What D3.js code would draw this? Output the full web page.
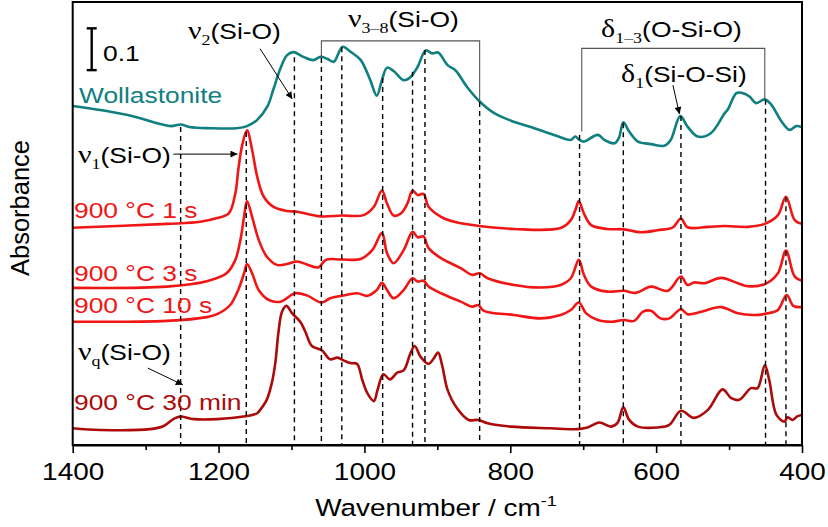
<!DOCTYPE html>
<html>
<head>
<meta charset="utf-8">
<script src="https://cdn.jsdelivr.net/npm/d3@7"></script>
<style>
  body { margin: 0; background: #fff; }
  svg { display: block; }
</style>
</head>
<body>
<svg id="chart" width="828" height="527"></svg>
<script>
// FTIR spectra, stacked with vertical offsets: [wavenumber (cm^-1), absorbance]
const wollastonite = [[1400,0.811],[1326,0.790],[1280,0.768],[1265,0.763],[1252,0.767],[1240,0.761],[1211,0.758],[1175,0.758],[1161,0.763],[1147,0.778],[1133,0.810],[1125,0.850],[1115,0.902],[1106,0.933],[1097,0.940],[1083,0.928],[1070,0.921],[1060,0.929],[1051,0.924],[1042,0.917],[1030,0.953],[1019,0.941],[1005,0.921],[992,0.873],[983,0.836],[976,0.873],[969,0.903],[960,0.895],[946,0.873],[937,0.880],[927,0.905],[916,0.944],[907,0.937],[899,0.939],[886,0.909],[875,0.896],[859,0.856],[842,0.822],[822,0.794],[799,0.776],[767,0.758],[740,0.742],[717,0.730],[711,0.738],[705,0.730],[699,0.726],[680,0.742],[671,0.730],[657,0.722],[651,0.735],[645,0.772],[637,0.750],[625,0.726],[607,0.720],[589,0.716],[580,0.730],[567,0.787],[557,0.762],[543,0.738],[525,0.746],[506,0.794],[502,0.802],[490,0.842],[483,0.843],[472,0.834],[463,0.818],[451,0.827],[442,0.814],[428,0.774],[417,0.754],[408,0.763],[400,0.760]];

const heated1s = [[1400,0.520],[1271,0.529],[1225,0.534],[1202,0.543],[1186,0.554],[1177,0.602],[1173,0.658],[1168,0.714],[1161,0.753],[1154,0.706],[1147,0.642],[1138,0.594],[1124,0.569],[1106,0.560],[1092,0.558],[1060,0.547],[1031,0.549],[1001,0.550],[987,0.570],[976,0.609],[969,0.578],[960,0.549],[950,0.554],[941,0.578],[934,0.609],[927,0.598],[919,0.601],[912,0.570],[895,0.546],[877,0.534],[842,0.524],[795,0.517],[731,0.519],[717,0.538],[710,0.566],[706,0.584],[699,0.554],[689,0.526],[667,0.517],[644,0.516],[621,0.509],[598,0.514],[577,0.521],[566,0.542],[557,0.521],[529,0.522],[507,0.524],[474,0.522],[451,0.529],[433,0.550],[422,0.594],[410,0.538],[400,0.529]];

const heated3s = [[1400,0.376],[1271,0.379],[1216,0.392],[1189,0.411],[1177,0.443],[1170,0.491],[1165,0.546],[1161,0.584],[1154,0.546],[1145,0.491],[1134,0.451],[1120,0.431],[1106,0.433],[1092,0.439],[1079,0.432],[1063,0.425],[1053,0.443],[1031,0.444],[1005,0.445],[989,0.467],[976,0.507],[969,0.459],[960,0.435],[946,0.467],[934,0.510],[927,0.497],[919,0.499],[912,0.471],[895,0.447],[868,0.423],[852,0.407],[842,0.411],[831,0.399],[795,0.383],[758,0.377],[731,0.383],[717,0.399],[706,0.443],[699,0.407],[689,0.379],[667,0.367],[644,0.369],[628,0.364],[607,0.379],[584,0.369],[566,0.403],[557,0.383],[548,0.389],[534,0.387],[511,0.400],[488,0.387],[474,0.380],[451,0.385],[433,0.411],[422,0.465],[410,0.403],[400,0.393]];

const heated10s = [[1400,0.295],[1271,0.297],[1216,0.306],[1202,0.313],[1184,0.335],[1173,0.371],[1165,0.411],[1161,0.433],[1154,0.411],[1145,0.371],[1131,0.347],[1115,0.343],[1095,0.363],[1079,0.358],[1059,0.341],[1047,0.351],[1031,0.357],[1010,0.363],[996,0.357],[983,0.371],[976,0.388],[969,0.371],[960,0.351],[946,0.371],[934,0.399],[927,0.391],[919,0.393],[912,0.379],[895,0.363],[868,0.343],[852,0.331],[844,0.335],[836,0.321],[795,0.311],[758,0.303],[731,0.311],[717,0.323],[706,0.341],[696,0.315],[680,0.299],[662,0.295],[644,0.299],[630,0.297],[618,0.319],[607,0.321],[594,0.303],[582,0.303],[566,0.325],[557,0.313],[538,0.319],[511,0.330],[488,0.315],[465,0.311],[447,0.315],[433,0.323],[421,0.359],[412,0.333],[400,0.330]];

const heated30min = [[1400,0.040],[1362,0.036],[1294,0.038],[1276,0.045],[1262,0.062],[1253,0.068],[1234,0.062],[1202,0.062],[1166,0.068],[1147,0.076],[1143,0.084],[1134,0.108],[1127,0.148],[1122,0.199],[1118,0.268],[1113,0.319],[1107,0.333],[1099,0.315],[1088,0.295],[1081,0.271],[1072,0.237],[1058,0.226],[1047,0.205],[1037,0.209],[1028,0.202],[1019,0.196],[1010,0.194],[1003,0.156],[996,0.124],[987,0.105],[982,0.132],[974,0.169],[965,0.157],[955,0.173],[946,0.179],[937,0.219],[931,0.237],[923,0.211],[912,0.194],[905,0.207],[899,0.221],[893,0.187],[886,0.132],[873,0.088],[857,0.060],[844,0.060],[831,0.052],[799,0.044],[745,0.040],[708,0.038],[694,0.042],[678,0.054],[662,0.044],[653,0.053],[645,0.090],[637,0.060],[625,0.044],[598,0.042],[582,0.048],[566,0.082],[548,0.065],[529,0.084],[509,0.133],[497,0.112],[486,0.108],[470,0.136],[461,0.136],[451,0.191],[445,0.156],[435,0.072],[424,0.056],[420,0.066],[413,0.060],[406,0.069],[400,0.072]];

// Series labels and colours
const seriesNames = ["Wollastonite", "900 °C 1 s", "900 °C 3 s", "900 °C 10 s", "900 °C 30 min"];
const seriesColors = ["#0f7f7f", "#f01616", "#f01616", "#f01616", "#ad0a0a"];

// Band assignments: wavenumber of each dashed guide and the absorbance it rises to
const bandWavenumbers = [1252, 1162, 1096, 1059, 1031, 975, 934, 917, 842, 705, 645, 566, 450, 422];
const bandTops        = [0.761, 0.749, 0.928, 0.926, 0.952, 0.878, 0.893, 0.945, 0.821, 0.742, 0.770, 0.787, 0.826, 0.593];

// Axis ticks
const majorTicks = [1400, 1200, 1000, 800, 600, 400];
const minorTicks = [1300, 1100, 900, 700, 500];
const scaleBarValue = 0.1;

const svg = d3.select("#chart");
const sans = "'Liberation Sans', Arial, Helvetica, sans-serif";
const serif = "'Liberation Serif', 'Times New Roman', serif";
const stretch = 1.2;

const plot = { left: 72.7, right: 802, top: 2, bottom: 445 };
const x = d3.scaleLinear().domain([1400, 400]).range([plot.left, plot.right]);
const y = d3.scaleLinear().domain([0, 1.06]).range([plot.bottom, plot.top]);

// Arrowhead marker
svg.append("defs").append("marker")
  .attr("id", "arrow").attr("viewBox", "0 0 10 10")
  .attr("refX", 10).attr("refY", 5)
  .attr("markerWidth", 11).attr("markerHeight", 7)
  .attr("markerUnits", "userSpaceOnUse")
  .attr("orient", "auto")
  .append("path").attr("d", "M0,0 L10,5 L0,10 Z").attr("fill", "#000");

// Spectra
const line = d3.line()
  .x(d => x(d[0]))
  .y(d => y(d[1]))
  .curve(d3.curveCatmullRom.alpha(0.5));

const spectra = [wollastonite, heated1s, heated3s, heated10s, heated30min];
svg.append("g").selectAll("path")
  .data(spectra)
  .join("path")
  .attr("d", line)
  .attr("fill", "none")
  .attr("stroke", (d, i) => seriesColors[i])
  .attr("stroke-width", 2.6)
  .attr("stroke-linejoin", "round");

// Dashed band guides
svg.append("g").selectAll("line")
  .data(bandWavenumbers)
  .join("line")
  .attr("x1", d => x(d)).attr("x2", d => x(d))
  .attr("y1", (d, i) => y(bandTops[i])).attr("y2", y(0))
  .attr("stroke", "#000").attr("stroke-width", 1.4)
  .attr("stroke-dasharray", "5,4");

// Group brackets: [left wn, right wn, top, left foot, right foot]
const brackets = [
  [1059, 842, 0.967, 0.926, 0.821],
  [702, 451, 0.949, 0.750, 0.828]
];
svg.append("g").selectAll("path")
  .data(brackets)
  .join("path")
  .attr("d", b => `M${x(b[0])},${y(b[3])}V${y(b[2])}H${x(b[1])}V${y(b[4])}`)
  .attr("fill", "none").attr("stroke", "#555").attr("stroke-width", 1.1);

// Frame
svg.append("rect")
  .attr("x", plot.left).attr("y", plot.top)
  .attr("width", plot.right - plot.left).attr("height", plot.bottom - plot.top)
  .attr("fill", "none").attr("stroke", "#000").attr("stroke-width", 2);

// Bottom axis
const axisG = svg.append("g").attr("transform", `translate(0,${plot.bottom})`)
  .call(d3.axisBottom(x).tickValues(majorTicks).tickSize(8).tickSizeOuter(0).tickPadding(10).tickFormat(d3.format("d")));
axisG.select(".domain").attr("stroke-width", 2);
axisG.selectAll(".tick line").attr("stroke-width", 1.6);
axisG.selectAll(".tick text")
  .attr("font-family", sans).attr("font-size", 23.3).attr("fill", "#000")
  .attr("transform", `scale(${stretch},1)`);

const minorG = svg.append("g").attr("transform", `translate(0,${plot.bottom})`)
  .call(d3.axisBottom(x).tickValues(minorTicks).tickSize(5).tickFormat(""));
minorG.select(".domain").remove();
minorG.selectAll(".tick line").attr("stroke-width", 1.6);

// Axis titles
const xTitle = svg.append("text")
  .attr("transform", `translate(436,516) scale(${stretch},1)`)
  .attr("text-anchor", "middle").attr("font-family", sans).attr("font-size", 23.3);
xTitle.append("tspan").text("Wavenumber / cm");
xTitle.append("tspan").attr("font-size", 15).attr("dy", -10).text("-1");

svg.append("text")
  .attr("transform", "translate(28.5,208) rotate(-90)")
  .attr("text-anchor", "middle").attr("font-family", sans).attr("font-size", 25.5)
  .text("Absorbance");

// Scale bar for 0.1 absorbance
const barX = 91.7, barTop = 0.997;
const bar = svg.append("g").attr("stroke", "#000").attr("stroke-width", 2.4);
bar.append("line").attr("x1", barX).attr("x2", barX).attr("y1", y(barTop)).attr("y2", y(barTop - scaleBarValue));
bar.append("line").attr("x1", barX - 5).attr("x2", barX + 5).attr("y1", y(barTop)).attr("y2", y(barTop));
bar.append("line").attr("x1", barX - 5).attr("x2", barX + 5).attr("y1", y(barTop - scaleBarValue)).attr("y2", y(barTop - scaleBarValue));
svg.append("text")
  .attr("transform", `translate(103,61) scale(${stretch},1)`)
  .attr("font-family", sans).attr("font-size", 22).text(String(scaleBarValue));

// Series labels
const labelSpots = [[79, 103], [74, 218], [74, 281], [74, 313], [74, 410]];
seriesNames.forEach((name, i) => {
  svg.append("text")
    .attr("transform", `translate(${labelSpots[i][0]},${labelSpots[i][1]}) scale(${stretch},1)`)
    .attr("font-family", sans).attr("font-size", 22)
    .attr("fill", seriesColors[i]).text(name);
});

// Vibration-mode labels: Greek symbol, subscript, bond
function modeLabel(px, py, greek, sub, rest) {
  const t = svg.append("text")
    .attr("transform", `translate(${px},${py}) scale(${stretch},1)`)
    .attr("font-family", sans).attr("font-size", 22).attr("fill", "#000");
  t.append("tspan").attr("font-family", serif).attr("font-size", 25).text(greek);
  t.append("tspan").attr("font-family", serif).attr("font-size", 15).attr("dy", 6).text(sub);
  t.append("tspan").attr("dy", -6).text(rest);
}
modeLabel(188, 39, "ν", "2", "(Si-O)");
modeLabel(348, 27, "ν", "3–8", "(Si-O)");
modeLabel(601, 37, "δ", "1–3", "(O-Si-O)");
modeLabel(621, 82, "δ", "1", "(Si-O-Si)");
modeLabel(78, 163, "ν", "1", "(Si-O)");
modeLabel(78, 360, "ν", "q", "(Si-O)");

// Pointer arrows: [from wn, from A, to wn, to A]
const pointers = [
  [1143, 0.948, 1099, 0.828],
  [1262, 0.696, 1174, 0.696],
  [1297, 0.184, 1249, 0.144],
  [577, 0.861, 568, 0.792]
];
svg.append("g").selectAll("line")
  .data(pointers)
  .join("line")
  .attr("x1", p => x(p[0])).attr("y1", p => y(p[1]))
  .attr("x2", p => x(p[2])).attr("y2", p => y(p[3]))
  .attr("stroke", "#000").attr("stroke-width", 1)
  .attr("marker-end", "url(#arrow)");
</script>
</body>
</html>
